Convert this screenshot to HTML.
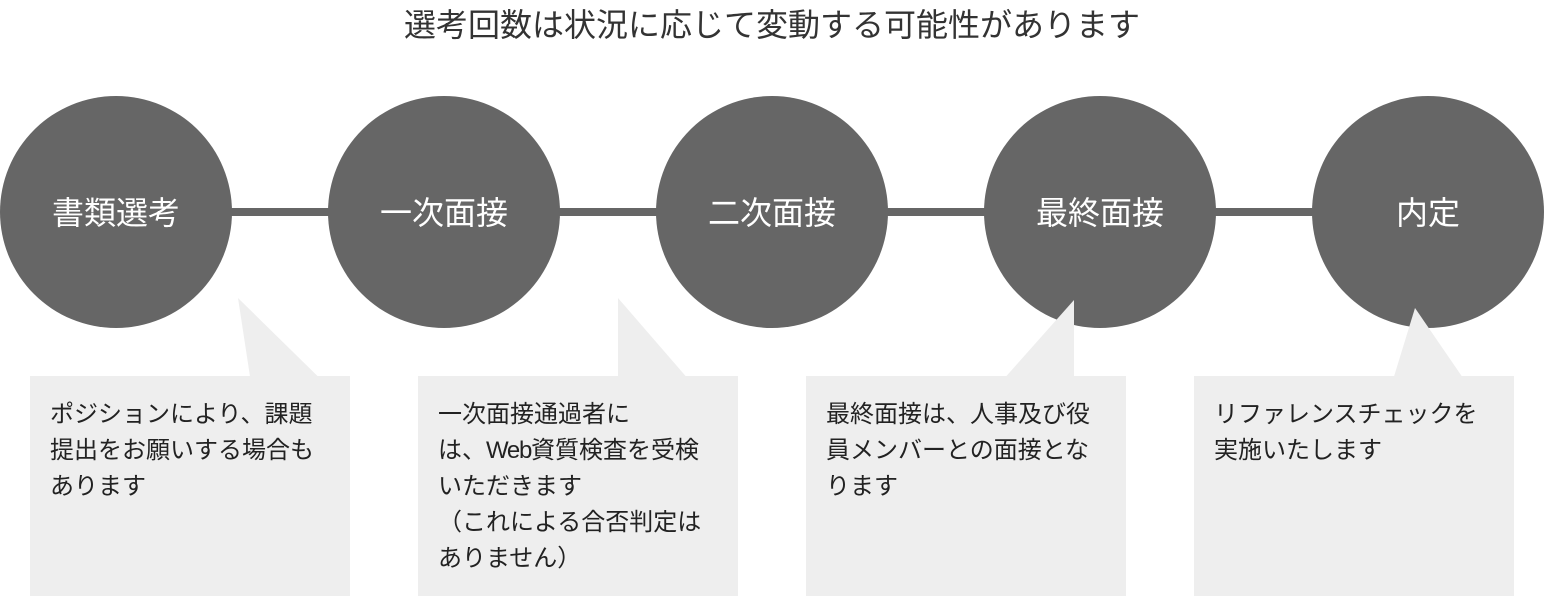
<!DOCTYPE html>
<html lang="ja">
<head>
<meta charset="utf-8">
<title>選考フロー</title>
<style>
html,body{margin:0;padding:0;background:#fff}
#p{position:relative;width:1544px;height:596px;overflow:hidden;background:#fff;font-family:"Liberation Sans","Noto Sans CJK JP",sans-serif}
#p svg{position:absolute;left:0;top:0}
.t{position:absolute;white-space:nowrap;font-size:24px;line-height:36px;height:36px;color:#222}
.c{position:absolute;top:189px;width:232px;height:48px;line-height:48px;text-align:center;font-size:32px;color:#fff;white-space:nowrap}
.h{position:absolute;left:0;top:1px;width:1544px;height:48px;line-height:48px;text-align:center;font-size:32px;color:#333;white-space:nowrap}
.w{letter-spacing:-1.3px}
</style>
</head>
<body>
<div id="p">
<svg width="1544" height="596" viewBox="0 0 1544 596">
<rect x="116" y="208" width="1312" height="8" fill="#666"/>
<circle cx="116" cy="212" r="116" fill="#666"/>
<circle cx="444" cy="212" r="116" fill="#666"/>
<circle cx="772" cy="212" r="116" fill="#666"/>
<circle cx="1100" cy="212" r="116" fill="#666"/>
<circle cx="1428" cy="212" r="116" fill="#666"/>
<rect x="30" y="376" width="320" height="220" fill="#eee"/>
<rect x="418" y="376" width="320" height="220" fill="#eee"/>
<rect x="806" y="376" width="320" height="220" fill="#eee"/>
<rect x="1194" y="376" width="320" height="220" fill="#eee"/>
<polygon points="238,298 250,376.5 318,376.5" fill="#eee"/>
<polygon points="618,298 618,376.5 686,376.5" fill="#eee"/>
<polygon points="1074,300 1006,376.5 1074,376.5" fill="#eee"/>
<polygon points="1415,308 1394,376.5 1462,376.5" fill="#eee"/>
</svg>
<div class="h">選考回数は状況に応じて変動する可能性があります</div>
<div class="c" style="left:0">書類選考</div>
<div class="c" style="left:328px">一次面接</div>
<div class="c" style="left:656px">二次面接</div>
<div class="c" style="left:984px">最終面接</div>
<div class="c" style="left:1312px">内定</div>
<div class="t" style="left:50px;top:397px">ポジションにより、課題</div>
<div class="t" style="left:50px;top:433px">提出をお願いする場合も</div>
<div class="t" style="left:50px;top:469px">あります</div>
<div class="t" style="left:438px;top:397px">一次面接通過者に</div>
<div class="t" style="left:438px;top:433px">は、<span class="w">Web</span>資質検査を受検</div>
<div class="t" style="left:438px;top:469px">いただきます</div>
<div class="t" style="left:438px;top:505px">（これによる合否判定は</div>
<div class="t" style="left:438px;top:541px">ありません）</div>
<div class="t" style="left:826px;top:397px">最終面接は、人事及び役</div>
<div class="t" style="left:826px;top:433px">員メンバーとの面接とな</div>
<div class="t" style="left:826px;top:469px">ります</div>
<div class="t" style="left:1214px;top:397px">リファレンスチェックを</div>
<div class="t" style="left:1214px;top:433px">実施いたします</div>
</div>
</body>
</html>
